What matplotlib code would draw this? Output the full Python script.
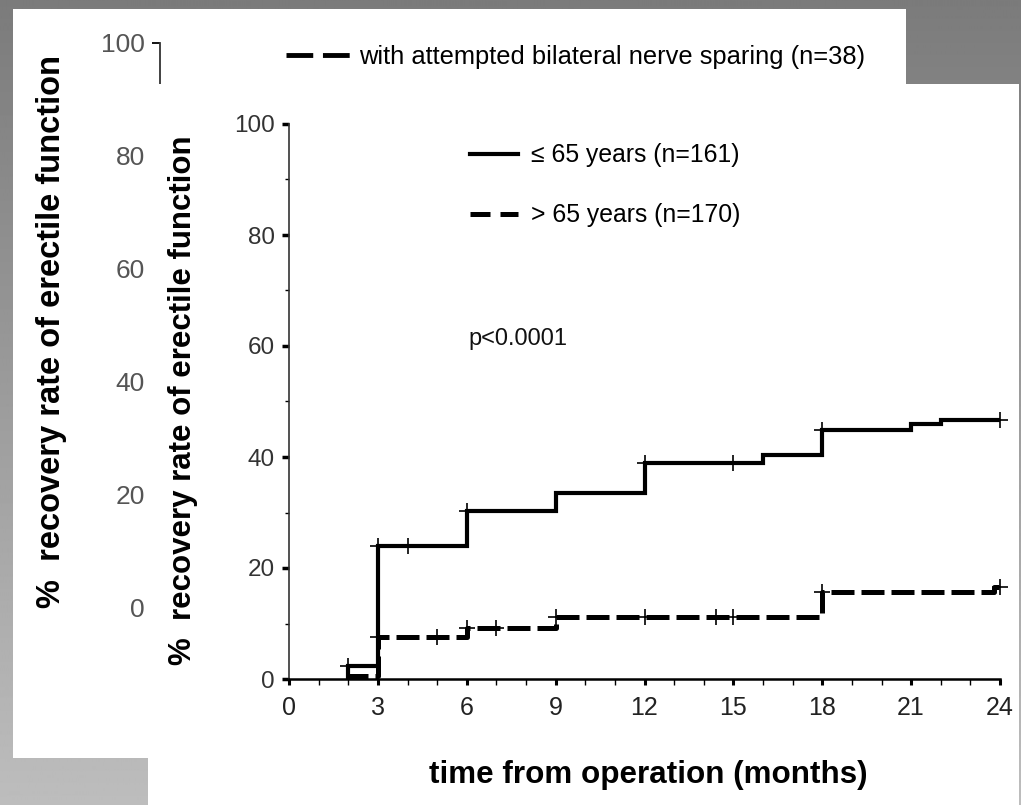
import numpy as np
import matplotlib
matplotlib.use("Agg")
import matplotlib.pyplot as plt
from matplotlib.patches import Rectangle
from matplotlib.lines import Line2D

W, H = 1021, 805

# Kaplan-Meier style step data (months, % recovered)
young_t = [2, 3, 6, 9, 12, 16, 18, 21, 22, 24]
young_v = [2.4, 24.0, 30.3, 33.5, 39.0, 40.4, 44.9, 45.9, 46.7, 46.7]
young_censor = [2, 3, 4, 6, 12, 15, 18, 24]

old_t = [2, 3, 6, 9, 18, 23.8, 24]
old_v = [0.6, 7.5, 9.1, 11.1, 15.6, 16.5, 16.5]
old_censor = [3, 5, 6, 7, 9, 12, 14.4, 15, 18, 24]

x_ticks = list(range(0, 25, 3))
y_ticks = list(range(0, 101, 20))

label_young = "\u2264 65 years (n=161)"
label_old = "> 65 years (n=170)"
label_back = "with attempted bilateral nerve sparing (n=38)"
ylab = "%  recovery rate of erectile function"
xlab = "time from operation (months)"

NARROW = ["Liberation Sans Narrow", "Liberation Sans", "DejaVu Sans"]
SANS = ["Liberation Sans", "DejaVu Sans"]
DASH = (0, (4.6, 1.4))


def step_value(ts, vs, t):
    i = np.searchsorted(ts, t, side="right") - 1
    return vs[max(i, 0)]


fig = plt.figure(figsize=(W / 100, H / 100), dpi=100)

# grey gradient background and the white sheet behind
bg = fig.add_axes([0, 0, 1, 1], zorder=0)
grad = np.linspace(123, 189, H)[:, None] * np.ones((1, 4))
bg.imshow(grad, cmap="gray", vmin=0, vmax=255, extent=(0, W, H, 0), aspect="auto")
bg.add_patch(Rectangle((13, 9), 893, 749, facecolor="white", edgecolor="none"))
bg.set_xlim(0, W)
bg.set_ylim(H, 0)
bg.axis("off")

# back figure (mostly hidden)
back = fig.add_axes([160 / W, (H - 607) / H, 746 / W, 564 / H], zorder=1)
back.patch.set_alpha(0)
back.set_ylim(0, 100)
back.set_xlim(0, 1)
for s in ["top", "right", "bottom"]:
    back.spines[s].set_visible(False)
back.spines["left"].set_linewidth(1.3)
back.spines["left"].set_color("#333333")
back.set_xticks([])
back.set_yticks(y_ticks)
back.tick_params(axis="y", length=6, width=1.3, pad=5, labelsize=19, labelcolor="#555555")
for lab in back.get_yticklabels():
    lab.set_family(SANS)
back.set_ylabel(ylab, fontsize=23.5, fontweight="bold", family=SANS, va="center")
back.yaxis.set_label_coords(-0.1448, 0.489)
back_handle = Line2D([], [], color="black", lw=3.5, linestyle=(0, (5.5, 2.0)))
back.legend([back_handle], [label_back], loc="center left", bbox_to_anchor=(0.169, 0.975),
            frameon=False, borderpad=0, borderaxespad=0, handlelength=2.6, handletextpad=0.25,
            prop={"family": NARROW, "size": 18.4})

# white sheet in front
fig.patches.append(Rectangle((148 / W, 0), (1019 - 148) / W, (H - 84) / H,
                             transform=fig.transFigure, facecolor="white",
                             edgecolor="none", zorder=2))

# front figure
ax = fig.add_axes([289 / W, (H - 679) / H, 711 / W, 555 / H], zorder=3)
ax.patch.set_alpha(0)
ax.set_xlim(0, 24)
ax.set_ylim(0, 100)
ax.spines["top"].set_visible(False)
ax.spines["right"].set_visible(False)
ax.spines["left"].set_linewidth(1.2)
ax.spines["left"].set_color("#333333")
ax.spines["bottom"].set_linewidth(1.8)
ax.set_xticks(x_ticks)
ax.set_xticks(range(0, 25), minor=True)
ax.set_yticks(y_ticks)
ax.set_yticks(range(0, 101, 10), minor=True)
ax.tick_params(axis="x", which="major", length=4, width=2.2, pad=8, labelsize=18, labelcolor="#222222")
ax.tick_params(axis="x", which="minor", length=4, width=1.0)
ax.tick_params(axis="y", which="major", length=5, width=2.5, pad=5, labelsize=17.5, labelcolor="#333333")
ax.tick_params(axis="y", which="minor", length=3, width=1.0)
for lab in ax.get_xticklabels():
    lab.set_family(NARROW)
for lab in ax.get_yticklabels():
    lab.set_family(SANS)

ax.step(np.r_[young_t[0], young_t], np.r_[0, young_v], where="post",
        color="black", lw=3.0, solid_joinstyle="miter")
ax.step(np.r_[old_t[0], old_t], np.r_[0, old_v], where="post",
        color="black", lw=3.6, linestyle=DASH)

ax.plot(young_censor, [step_value(young_t, young_v, t) for t in young_censor], "+",
        color="black", ms=11, mew=1.2, clip_on=False)
ax.plot(old_censor, [step_value(old_t, old_v, t) for t in old_censor], "+",
        color="black", ms=11, mew=1.2, clip_on=False)

h_young = Line2D([], [], color="black", lw=3.0)
h_old = Line2D([], [], color="black", lw=3.6, linestyle=(0, (4.0, 2.0)))
ax.legend([h_young, h_old], [label_young, label_old], loc="upper left",
          bbox_to_anchor=(0.2546, 0.965), frameon=False, borderpad=0, borderaxespad=0,
          handlelength=1.95, handletextpad=0.5, labelspacing=1.45,
          prop={"family": SANS, "size": 17.8})
ax.text(0.2518, 0.612, "p<0.0001", transform=ax.transAxes, va="center", ha="left",
        fontsize=17, family=SANS, color="#111111")

ax.set_ylabel(ylab, fontsize=22.5, fontweight="bold", family=SANS, va="center")
ax.yaxis.set_label_coords(-0.149, 0.503)
ax.set_xlabel(xlab, fontsize=22.6, fontweight="bold", family=NARROW, va="center")
ax.xaxis.set_label_coords(0.505, -0.173)

fig.savefig("out.png", dpi=100)
